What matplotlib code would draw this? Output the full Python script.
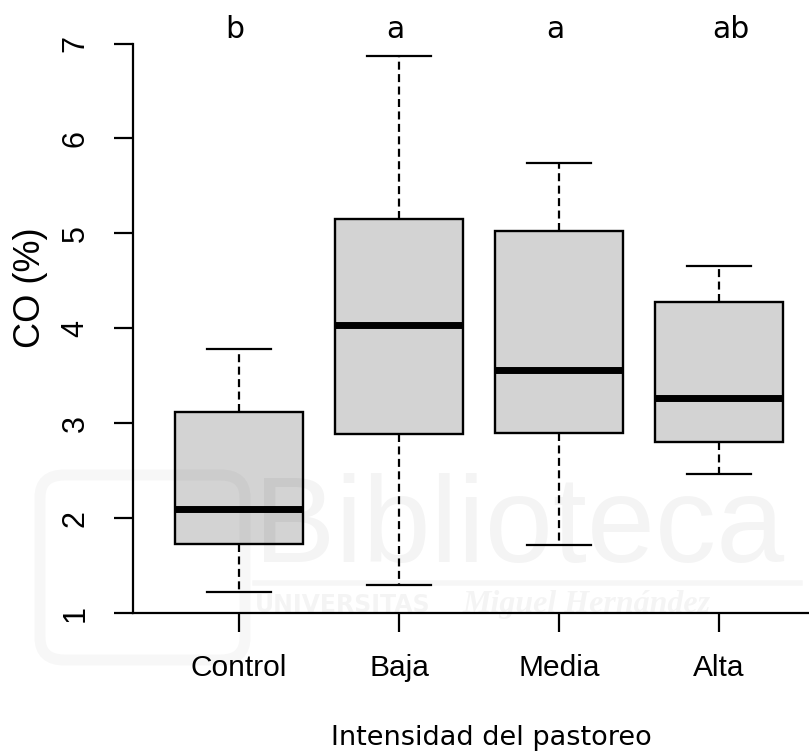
import matplotlib
matplotlib.use("Agg")
import matplotlib.pyplot as plt
import matplotlib.transforms as mtransforms
from matplotlib.patches import FancyBboxPatch

# boxplot summaries of soil organic carbon per grazing level
groups = ["Control", "Baja", "Media", "Alta"]
whislo = [1.22, 1.30, 1.72, 2.47]
q1 = [1.73, 2.89, 2.90, 2.80]
med = [2.10, 4.04, 3.56, 3.27]
q3 = [3.12, 5.15, 5.03, 4.28]
whishi = [3.78, 6.87, 5.74, 4.66]
letters = ["b", "a", "a", "ab"]

yticks = [1, 2, 3, 4, 5, 6, 7]

W, H = 809, 751
fig = plt.figure(figsize=(W / 100, H / 100), dpi=100)

# plot region in pixels: x 133..809, y 43.5..613.3
ax = fig.add_axes([133 / W, 1 - 613.3 / H, (W - 133) / W, (613.3 - 43.5) / H])

stats = []
for i, g in enumerate(groups):
    stats.append(dict(label=g, whislo=whislo[i], q1=q1[i], med=med[i],
                      q3=q3[i], whishi=whishi[i], fliers=[]))

pos = list(range(1, len(groups) + 1))
ax.bxp(stats, positions=pos, widths=0.8, capwidths=0.4, patch_artist=True,
       showfliers=False,
       boxprops=dict(facecolor="#d3d3d3", edgecolor="black", linewidth=1.7),
       medianprops=dict(color="black", linewidth=5, solid_capstyle="butt"),
       whiskerprops=dict(color="black", linewidth=1.6, linestyle=(0, (3.6, 2.0))),
       capprops=dict(color="black", linewidth=1.6))

ax.set_xlim(0.3375, 4.5625)
ax.set_ylim(1, 7)
ax.set_yticks(yticks)
ax.set_xticks(pos)
ax.set_xticklabels(groups)

for s in ["top", "right"]:
    ax.spines[s].set_visible(False)
ax.spines["left"].set_bounds(1, 7)
ax.spines["left"].set_linewidth(1.6)
ax.spines["bottom"].set_linewidth(1.6)
ax.patch.set_alpha(0)

ax.tick_params(axis="both", length=13.5, width=1.6, direction="out")
ax.tick_params(axis="y", pad=17, labelrotation=90)
ax.tick_params(axis="x", pad=16)
for lab in ax.get_yticklabels():
    lab.set_fontfamily("Liberation Sans")
    lab.set_fontsize(22)
    lab.set_va("center")
for lab in ax.get_xticklabels():
    lab.set_fontfamily("Liberation Sans")
    lab.set_fontsize(21.5)

# significance letters above each box (x in data units, y in figure units)
trans = mtransforms.blended_transform_factory(ax.transData, fig.transFigure)
letter_shift = [-0.025, -0.025, -0.025, 0.075]
for i, t in enumerate(letters):
    ax.text(pos[i] + letter_shift[i], 1 - 38 / H, t, transform=trans,
            ha="center", va="baseline", fontsize=21.5, family="DejaVu Sans",
            clip_on=False)

fig.text(31 / W, 1 - 288 / H, "CO (%)", rotation=90, ha="center", va="center",
         fontsize=26, family="Liberation Sans")
fig.text(491 / W, 1 - 745 / H, "Intensidad del pastoreo", ha="center", va="baseline",
         fontsize=19.5, family="DejaVu Sans")

# faint library watermark laid over the figure
wm = "#000000"
fig.text(254 / W, 1 - 562 / H, "Biblioteca", ha="left", va="baseline",
         fontsize=88, family="Liberation Sans", color=wm, alpha=0.045, zorder=10)
fig.add_artist(plt.Line2D([255 / W, 800 / W], [1 - 583 / H, 1 - 583 / H],
                          color=wm, alpha=0.035, linewidth=4, zorder=10))
fig.text(255 / W, 1 - 612 / H, "UNIVERSITAS", ha="left", va="baseline",
         fontsize=17, family="DejaVu Sans", weight="bold", color=wm,
         alpha=0.045, zorder=10)
fig.text(462 / W, 1 - 612 / H, "Miguel Hernández", ha="left", va="baseline",
         fontsize=23, family="Liberation Serif", style="italic", weight="bold",
         color=wm, alpha=0.045, zorder=10)
fig.add_artist(FancyBboxPatch((40 / W, 1 - 660 / H), 205 / W, 185 / H,
                              boxstyle="round,pad=0,rounding_size=0.03",
                              transform=fig.transFigure, fill=False,
                              edgecolor=wm, alpha=0.03, linewidth=8, zorder=10))

fig.savefig("out.png", dpi=100)
